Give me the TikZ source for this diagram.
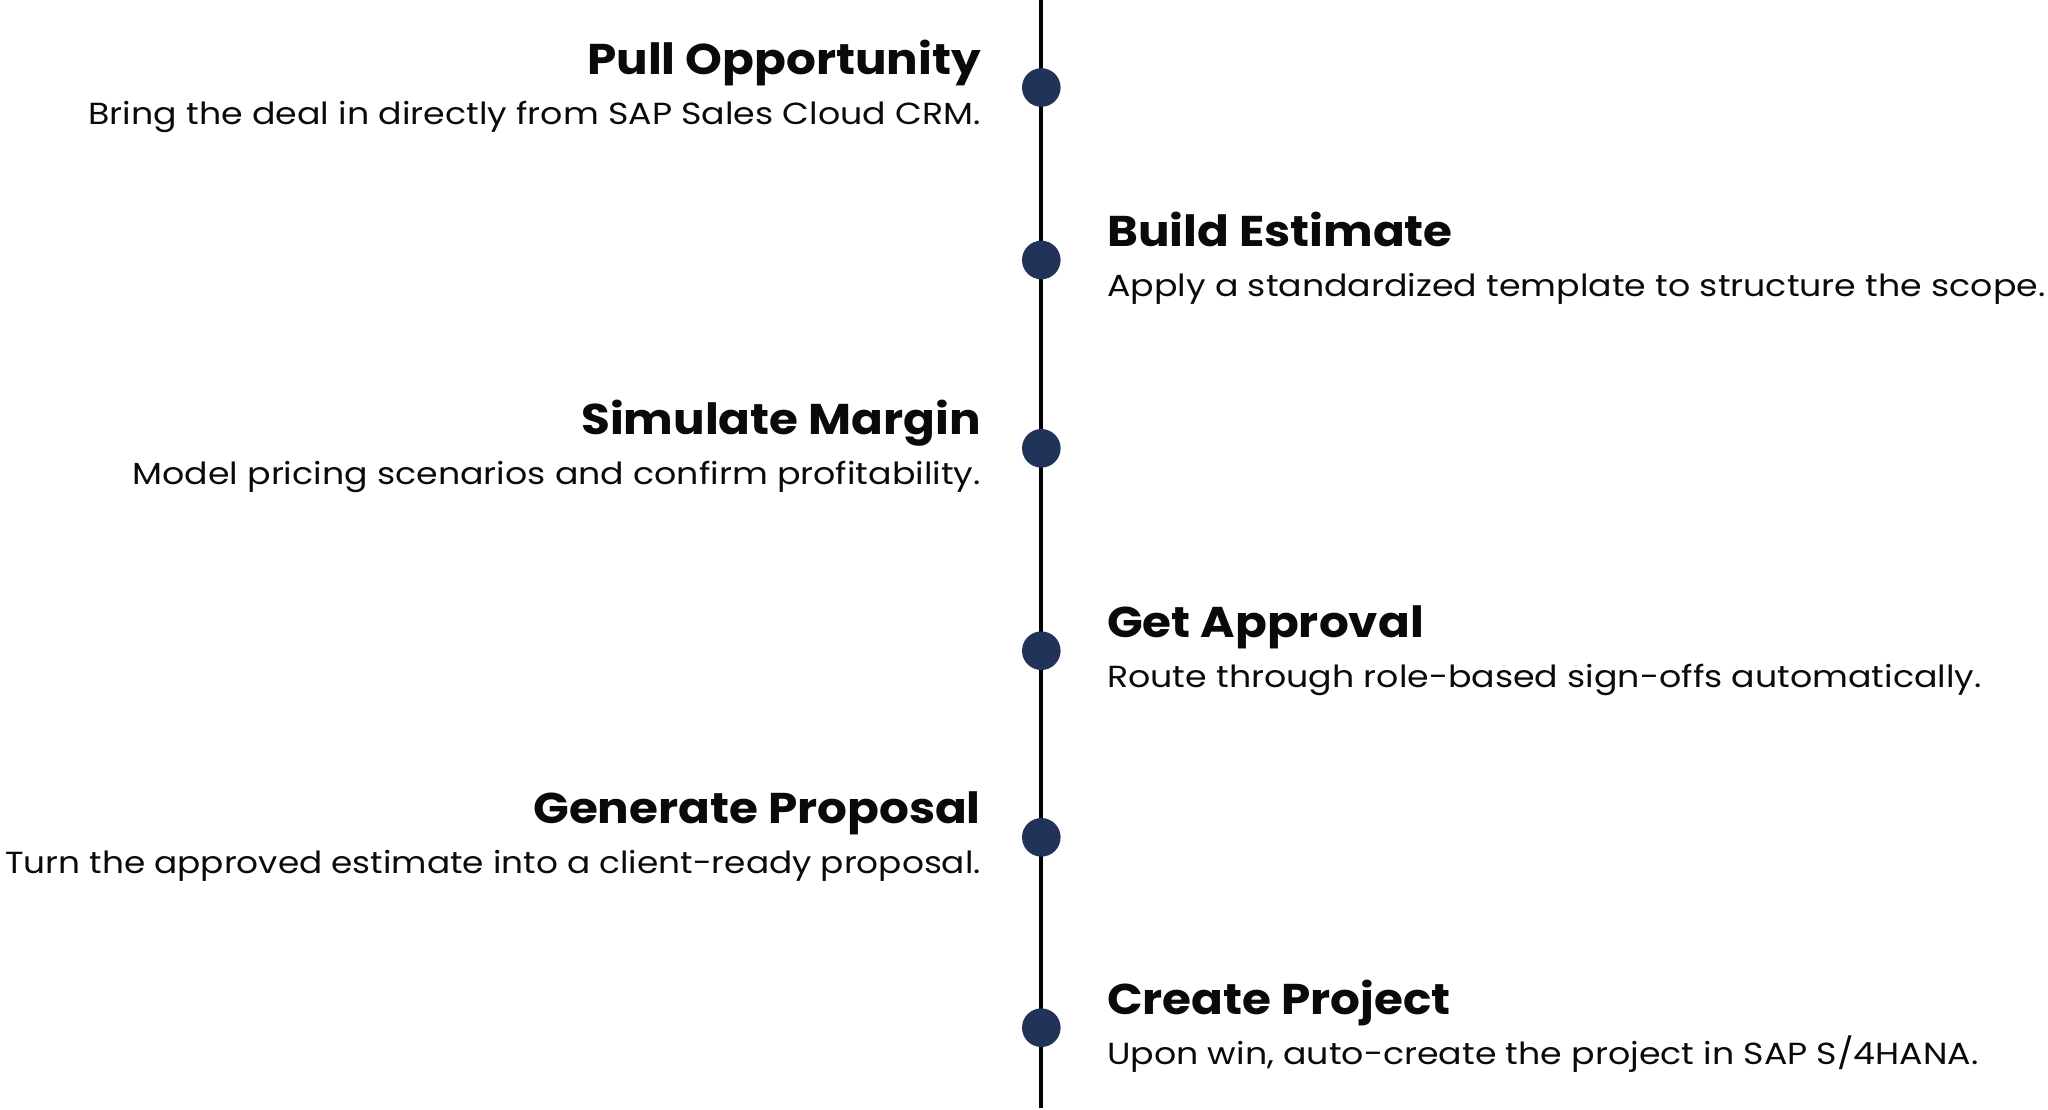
\documentclass[tikz,border=0pt]{standalone}
\usepackage{fontspec}
\setmainfont{Poppins}
\newfontfamily\titlefont{Poppins}[FakeStretch=1.09]
\newfontfamily\descfont{Poppins}[FakeStretch=1.14]
\newfontfamily\descfontnarrow{Poppins}[FakeStretch=1.125]
\definecolor{dotnavy}{HTML}{22335A}
\definecolor{txt}{HTML}{0A0A0A}
\tikzset{
  dot/.style={circle, fill=dotnavy, draw=none, minimum size=38.6pt, inner sep=0pt},
  ttl/.style={inner sep=0pt, text=txt, font=\titlefont\fontsize{43}{50}\selectfont\bfseries},
  dsc/.style={inner sep=0pt, text=txt, font=\descfont\fontsize{30.5}{36}\selectfont},
  dscn/.style={inner sep=0pt, text=txt, font=\descfontnarrow\fontsize{30.5}{36}\selectfont},
  spine/.style={line width=4pt, draw=black}
}
\begin{document}
\begin{tikzpicture}[x=1pt,y=-1pt]
\useasboundingbox (0,0) rectangle (2048,1109);
\coordinate (top) at (1041.3,0);
\coordinate (bot) at (1041.3,1108);
\draw[spine] (top) -- (bot);
% item 1
\node[dot] (d1) at (1041.3,87.5) {};
\node[ttl, anchor=base east] (t1) at (981,74) {Pull Opportunity};
\node[dsc, anchor=base east] (s1) at (981,124) {Bring the deal in directly from SAP Sales Cloud CRM.};
% item 2
\node[dot] (d2) at (1041.3,260) {};
\node[ttl, anchor=base west] (t2) at (1107,246.5) {Build Estimate};
\node[dsc, anchor=base west] (s2) at (1107,296.5) {Apply a standardized template to structure the scope.};
% item 3
\node[dot] (d3) at (1041.3,448.3) {};
\node[ttl, anchor=base east] (t3) at (981,434.8) {Simulate Margin};
\node[dsc, anchor=base east] (s3) at (981,484.8) {Model pricing scenarios and confirm profitability.};
% item 4
\node[dot] (d4) at (1041.3,650.7) {};
\node[ttl, anchor=base west] (t4) at (1107,637.2) {Get Approval};
\node[dsc, anchor=base west] (s4) at (1107,687.2) {Route through role-based sign-offs automatically.};
% item 5
\node[dot] (d5) at (1041.3,837.3) {};
\node[ttl, anchor=base east] (t5) at (981,823.8) {Generate Proposal};
\node[dscn, anchor=base east] (s5) at (981,873.8) {Turn the approved estimate into a client-ready proposal.};
% item 6
\node[dot] (d6) at (1041.3,1027.7) {};
\node[ttl, anchor=base west] (t6) at (1107,1014.2) {Create Project};
\node[dsc, anchor=base west] (s6) at (1107,1064.2) {Upon win, auto-create the project in SAP S/4HANA.};
\end{tikzpicture}
\end{document}
